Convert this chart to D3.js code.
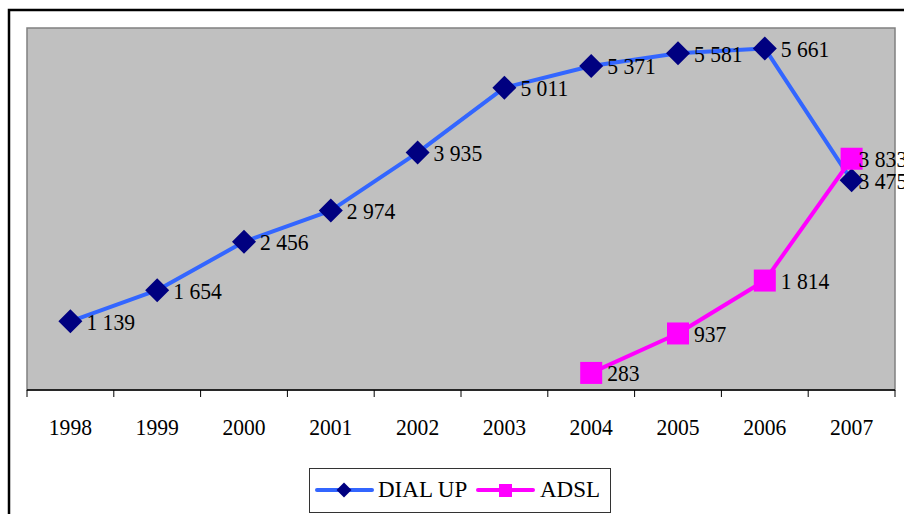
<!DOCTYPE html>
<html>
<head>
<meta charset="utf-8">
<script src="https://cdn.jsdelivr.net/npm/d3@7"></script>
<style>
  body { margin: 0; background: #fff; }
</style>
</head>
<body>
<div id="chart"></div>
<script>
// chart data
const years = ['1998', '1999', '2000', '2001', '2002', '2003', '2004', '2005', '2006', '2007'];
const dialUp = [1139, 1654, 2456, 2974, 3935, 5011, 5371, 5581, 5661, 3475];
const adsl = [null, null, null, null, null, null, 283, 937, 1814, 3833];
const seriesNames = ['DIAL UP', 'ADSL'];

const W = 904, H = 514;
const PLOT = { LEFT: 27, RIGHT: 895, TOP: 28, BOTTOM: 390 };
const FONT = 'Liberation Serif';

const svg = d3.select('#chart').append('svg')
  .attr('width', W)
  .attr('height', H);

// outer chart border (runs past the right and bottom edges)
svg.append('rect')
  .attr('x', 9).attr('y', 10)
  .attr('width', 1000).attr('height', 600)
  .attr('fill', 'none')
  .attr('stroke', '#000')
  .attr('stroke-width', 2.5);

// scales
const x = d3.scaleBand().domain(years).range([PLOT.LEFT, PLOT.RIGHT]).padding(0);
const y = d3.scaleLinear().domain([0, 6000]).range([PLOT.BOTTOM, PLOT.TOP]);
const cx = d => x(d) + x.bandwidth() / 2;

// gray plot area
svg.append('rect')
  .attr('x', PLOT.LEFT).attr('y', PLOT.TOP)
  .attr('width', PLOT.RIGHT - PLOT.LEFT)
  .attr('height', PLOT.BOTTOM - PLOT.TOP)
  .attr('fill', '#c0c0c0')
  .attr('stroke', '#808080')
  .attr('stroke-width', 1.5);

// x axis: labels from the axis, ticks between categories
const xAxis = svg.append('g')
  .attr('transform', `translate(0, ${PLOT.BOTTOM})`)
  .call(d3.axisBottom(x).tickSize(0).tickPadding(0));
xAxis.select('.domain').remove();
xAxis.selectAll('text')
  .attr('y', 0)
  .attr('dy', null)
  .attr('transform', 'translate(0, 45) scale(0.9, 1)')
  .attr('font-family', FONT)
  .attr('font-size', 24)
  .attr('fill', '#000');

const bounds = years.map(d => x(d)).concat([x(years[years.length - 1]) + x.bandwidth()]);
svg.append('g').selectAll('line')
  .data(bounds)
  .enter()
  .append('line')
  .attr('x1', d => d).attr('x2', d => d)
  .attr('y1', PLOT.BOTTOM).attr('y2', PLOT.BOTTOM + 7)
  .attr('stroke', '#000')
  .attr('stroke-width', 1);

svg.append('line')
  .attr('x1', PLOT.LEFT).attr('x2', PLOT.RIGHT)
  .attr('y1', PLOT.BOTTOM).attr('y2', PLOT.BOTTOM)
  .attr('stroke', '#000')
  .attr('stroke-width', 1.5);

// number format with a space as thousands separator
const fmt = d3.formatLocale({ decimal: ',', thousands: ' ', grouping: [3], currency: ['', ''] }).format(',d');

const diamond = r => `M0,${-r}L${r},0L0,${r}L${-r},0Z`;

function drawSeries(values, lineColor, markerColor, marker) {
  const pts = years.map((d, i) => ({ year: d, v: values[i], i: i })).filter(p => p.v !== null);

  svg.append('path')
    .datum(pts)
    .attr('fill', 'none')
    .attr('stroke', lineColor)
    .attr('stroke-width', 4)
    .attr('stroke-linejoin', 'round')
    .attr('d', d3.line().x(p => cx(p.year)).y(p => y(p.v)));

  const g = svg.append('g');
  if (marker === 'diamond') {
    g.selectAll('path')
      .data(pts)
      .enter()
      .append('path')
      .attr('transform', p => `translate(${cx(p.year)}, ${y(p.v)})`)
      .attr('d', diamond(12))
      .attr('fill', markerColor);
  } else {
    g.selectAll('rect')
      .data(pts)
      .enter()
      .append('rect')
      .attr('x', p => cx(p.year) - 11)
      .attr('y', p => y(p.v) - 11)
      .attr('width', 22).attr('height', 22)
      .attr('fill', markerColor);
  }
  return pts;
}

const dialPts = drawSeries(dialUp, '#3366ff', '#000080', 'diamond');
const adslPts = drawSeries(adsl, '#ff00ff', '#ff00ff', 'square');

// data labels, to the right of each point (last category pulled in)
svg.append('g').selectAll('text')
  .data(dialPts.concat(adslPts))
  .enter()
  .append('text')
  .attr('transform', p => {
    const lx = cx(p.year) + (p.i === years.length - 1 ? 7 : 16);
    return `translate(${lx}, ${y(p.v) + 8.5}) scale(0.9, 1)`;
  })
  .attr('font-family', FONT)
  .attr('font-size', 24)
  .attr('fill', '#000')
  .text(p => fmt(p.v));

// legend
const legend = svg.append('g');
legend.append('rect')
  .attr('x', 309.5).attr('y', 468.5)
  .attr('width', 301).attr('height', 44)
  .attr('fill', '#fff')
  .attr('stroke', '#333')
  .attr('stroke-width', 1);

const legendItems = [
  { name: seriesNames[0], line: '#3366ff', marker: '#000080', shape: 'diamond', x0: 317, text: 378 },
  { name: seriesNames[1], line: '#ff00ff', marker: '#ff00ff', shape: 'square', x0: 478, text: 540 }
];
legendItems.forEach(function(it) {
  legend.append('line')
    .attr('x1', it.x0).attr('x2', it.x0 + 55)
    .attr('y1', 490).attr('y2', 490)
    .attr('stroke', it.line)
    .attr('stroke-width', 4)
    .attr('stroke-linecap', 'round');
  if (it.shape === 'diamond') {
    legend.append('path')
      .attr('transform', `translate(${it.x0 + 27}, 490)`)
      .attr('d', diamond(7.5))
      .attr('fill', it.marker);
  } else {
    legend.append('rect')
      .attr('x', it.x0 + 21).attr('y', 484)
      .attr('width', 13).attr('height', 13)
      .attr('fill', it.marker);
  }
  legend.append('text')
    .attr('x', it.text)
    .attr('y', 497)
    .attr('font-family', FONT)
    .attr('font-size', 23)
    .attr('fill', '#000')
    .text(it.name);
});
</script>
</body>
</html>
